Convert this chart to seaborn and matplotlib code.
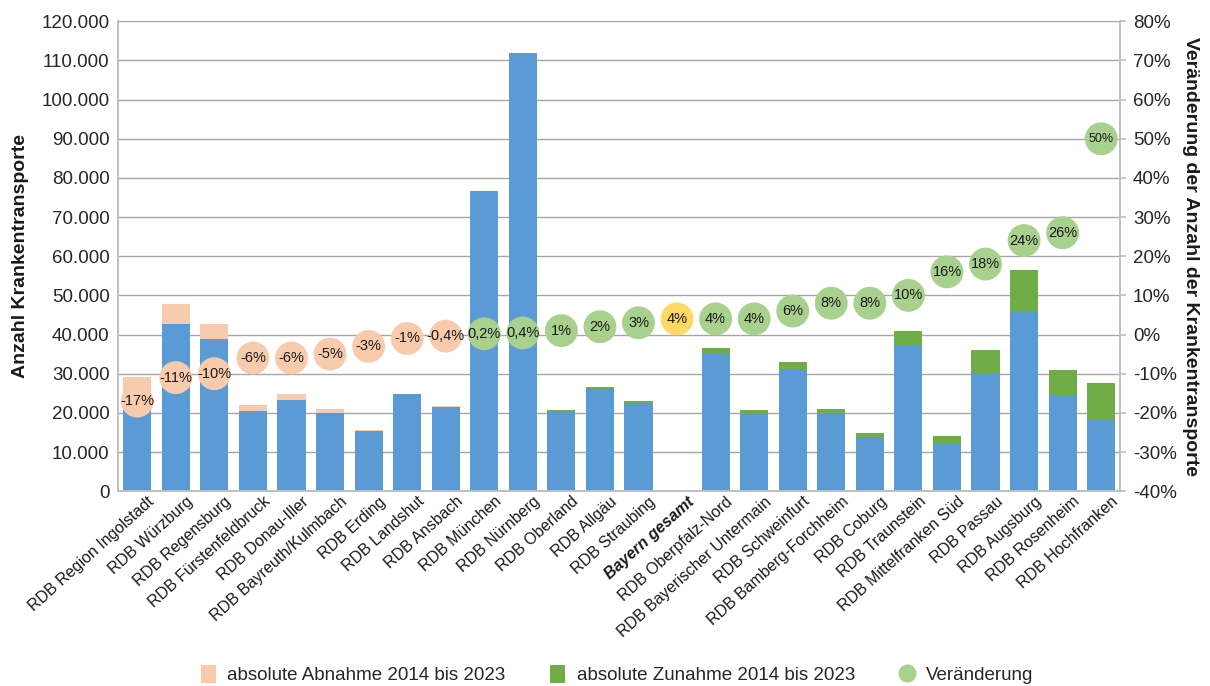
import numpy as np
import pandas as pd
import matplotlib
matplotlib.use("Agg")
import matplotlib.pyplot as plt
import matplotlib.transforms as mtransforms
from matplotlib.patches import Patch
from matplotlib.lines import Line2D
import seaborn as sns

# Daten
kategorien = [
    "RDB Region Ingolstadt", "RDB Würzburg", "RDB Regensburg", "RDB Fürstenfeldbruck",
    "RDB Donau-Iller", "RDB Bayreuth/Kulmbach", "RDB Erding", "RDB Landshut",
    "RDB Ansbach", "RDB München", "RDB Nürnberg", "RDB Oberland", "RDB Allgäu",
    "RDB Straubing", "Bayern gesamt", "RDB Oberpfalz-Nord", "RDB Bayerischer Untermain",
    "RDB Schweinfurt", "RDB Bamberg-Forchheim", "RDB Coburg", "RDB Traunstein",
    "RDB Mittelfranken Süd", "RDB Passau", "RDB Augsburg", "RDB Rosenheim", "RDB Hochfranken",
]
wert_2014 = [29100, 47700, 42700, 22000, 24700, 21100, 15750, 24900, 21700, 76500,
             111550, 20500, 26000, 22400, np.nan, 35100, 19800, 31000, 19600, 13700,
             37400, 12200, 30300, 45700, 24500, 18400]
wert_2023 = [24100, 42800, 38800, 20600, 23200, 20000, 15300, 24700, 21600, 76700,
             111900, 20700, 26500, 23000, np.nan, 36500, 20700, 32900, 20900, 14900,
             41000, 14200, 36000, 56600, 30900, 27500]
veraenderung = [-17, -11, -10, -6, -6, -5, -3, -1, -0.4, 0.2, 0.4, 1, 2, 3, 4, 4, 4,
                6, 8, 8, 10, 16, 18, 24, 26, 50]

blau = "#5B9BD5"
pfirsich = "#F8CBAD"
gruen = "#70AD47"
hellgruen = "#A9D18E"
gelb = "#FFD966"

df = pd.DataFrame({"kategorie": kategorien, "w2014": wert_2014, "w2023": wert_2023,
                   "veraenderung": veraenderung})
df["oben"] = df[["w2014", "w2023"]].max(axis=1)
df["basis"] = df[["w2014", "w2023"]].min(axis=1)
df["pos"] = np.arange(len(df))
farbe_oben = {k: (pfirsich if a > b else gruen) for k, a, b in zip(kategorien, wert_2014, wert_2023)}
df["gruppe"] = np.where(df["kategorie"] == "Bayern gesamt", "gesamt",
                        np.where(df["veraenderung"] < 0, "Abnahme", "Zunahme"))

sns.set_theme(style="white")
plt.rcParams["font.family"] = ["Liberation Sans", "DejaVu Sans"]

fig, ax = plt.subplots(figsize=(12.1, 6.86), dpi=100)
fig.subplots_adjust(left=0.0975, right=0.926, top=0.969, bottom=0.284)

# Balken: oberer Teil (Max) zuerst, dann blauer Sockel (Min) darüber
sns.barplot(data=df, x="kategorie", y="oben", hue="kategorie", palette=farbe_oben,
            order=kategorien, legend=False, width=0.73, saturation=1, linewidth=0, ax=ax)
sns.barplot(data=df, x="kategorie", y="basis", color=blau, order=kategorien,
            width=0.73, saturation=1, linewidth=0, ax=ax)

ax.set_ylim(0, 120000)
ax.set_yticks(np.arange(0, 120001, 10000))
ax.set_yticklabels([f"{int(v):,}".replace(",", ".") for v in np.arange(0, 120001, 10000)],
                   fontsize=13.5, color="#262626")
ax.yaxis.grid(True, color="#A6A6A6", linewidth=1)
ax.set_axisbelow(True)
ax.set_xlabel("")
ax.set_ylabel("Anzahl Krankentransporte", fontsize=14, fontweight="bold", color="#1a1a1a")
ax.yaxis.set_label_coords(-0.089, 0.5)
ax.tick_params(axis="y", length=0, pad=6)
ax.tick_params(axis="x", length=0, pad=2)
ax.set_xticks(range(len(kategorien)))
ax.set_xticklabels(kategorien, rotation=42, ha="right", rotation_mode="anchor", fontsize=11.5,
                   color="#1a1a1a")
verschiebung = mtransforms.ScaledTranslation(0.1, 0, fig.dpi_scale_trans)
for lbl in ax.get_xticklabels():
    lbl.set_transform(lbl.get_transform() + verschiebung)
    if lbl.get_text() == "Bayern gesamt":
        lbl.set_fontweight("bold")
        lbl.set_fontstyle("italic")
for s in ["left", "bottom", "right"]:
    ax.spines[s].set_color("#BFBFBF")
ax.spines["top"].set_visible(False)

# Veränderung in Prozent als Kreise auf zweiter Achse
ax2 = ax.twinx()
sns.scatterplot(data=df, x="pos", y="veraenderung", hue="gruppe",
                palette={"Abnahme": pfirsich, "Zunahme": hellgruen, "gesamt": gelb},
                s=560, linewidth=0, legend=False, ax=ax2, zorder=3)
for i, v in enumerate(veraenderung):
    txt = f"{v:g}%".replace(".", ",")
    ax2.text(i, v, txt, ha="center", va="center", fontsize=9 if v >= 50 else 10.5,
             color="#1a1a1a", zorder=4)
ax2.set_ylim(-40, 80)
ax2.set_yticks(np.arange(-40, 81, 10))
ax2.set_yticklabels([f"{v}%" for v in np.arange(-40, 81, 10)], fontsize=13.5, color="#262626")
ax2.tick_params(axis="y", length=4, color="#BFBFBF", pad=5)
ax2.set_ylabel("Veränderung der Anzahl der Krankentransporte", fontsize=14,
               fontweight="bold", rotation=270, color="#1a1a1a")
ax2.yaxis.set_label_coords(1.078, 0.5)
for s in ["left", "bottom", "right"]:
    ax2.spines[s].set_color("#BFBFBF")
ax2.spines["top"].set_visible(False)
ax2.grid(False)
ax.set_xlim(-0.5, len(kategorien) - 0.5)

handles = [
    Patch(facecolor=pfirsich, edgecolor="none", label="absolute Abnahme 2014 bis 2023"),
    Patch(facecolor=gruen, edgecolor="none", label="absolute Zunahme 2014 bis 2023"),
    Line2D([0], [0], marker="o", linestyle="none", markerfacecolor=hellgruen,
           markeredgecolor="none", markersize=13, label="Veränderung"),
]
fig.legend(handles=handles, loc="lower center", bbox_to_anchor=(0.51, -0.022), ncol=3,
           frameon=False, fontsize=13.5, handlelength=0.8, handleheight=1.1,
           handletextpad=0.6, columnspacing=2.4)

fig.savefig("out.png", dpi=100)
